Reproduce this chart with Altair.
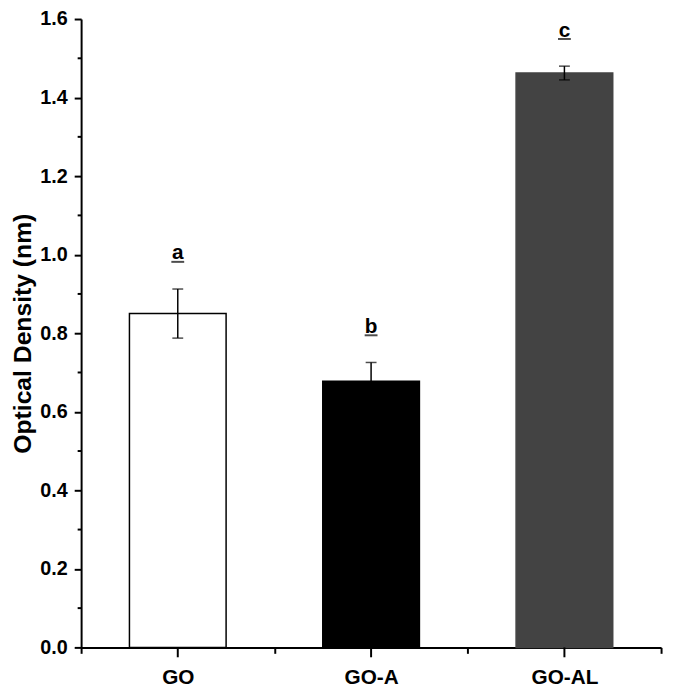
import altair as alt
import pandas as pd

categories = ["GO", "GO-A", "GO-AL"]
means = [0.85, 0.678, 1.4625]
errors = [0.0625, 0.0475, 0.0175]
letters = ["a", "b", "c"]
fills = ["#ffffff", "#000000", "#434343"]
strokes = ["#000000", "#000000", "#434343"]
y_ticks = [0.0, 0.2, 0.4, 0.6, 0.8, 1.0, 1.2, 1.4, 1.6]
y_minor = [0.1, 0.3, 0.5, 0.7, 0.9, 1.1, 1.3, 1.5]

df = pd.DataFrame({"cat": categories, "mean": means, "err": errors, "letter": letters})
minor_df = pd.DataFrame({"v": y_minor})

FONT = "Liberation Sans"
H = 636

xenc = alt.X(
    "cat:N",
    sort=categories,
    scale=alt.Scale(paddingInner=0, paddingOuter=0),
    axis=alt.Axis(
        title=None,
        labelAngle=0,
        tickBand="extent",
        tickSize=6,
        tickWidth=2,
        tickColor="black",
        domainColor="black",
        domainWidth=2,
        labelFont=FONT,
        labelFontWeight="bold",
        labelFontSize=21,
        labelColor="black",
        labelPadding=14,
    ),
)

yscale = alt.Scale(domain=[0, 1.6], nice=False, zero=True)

bars = alt.Chart(df).mark_bar(width={"band": 0.5}, strokeWidth=1.5).encode(
    x=xenc,
    y=alt.Y(
        "mean:Q",
        scale=yscale,
        axis=alt.Axis(
            title="Optical Density (nm)",
            values=y_ticks,
            format=".1f",
            grid=False,
            tickSize=7,
            tickWidth=2,
            tickColor="black",
            domainColor="black",
            domainWidth=2,
            labelFont=FONT,
            labelFontWeight="bold",
            labelFontSize=20,
            labelColor="black",
            labelPadding=7,
            titleFont=FONT,
            titleFontWeight="bold",
            titleFontSize=25,
            titleColor="black",
            titlePadding=4,
        ),
    ),
    fill=alt.Fill("cat:N", scale=alt.Scale(domain=categories, range=fills), legend=None),
    stroke=alt.Stroke("cat:N", scale=alt.Scale(domain=categories, range=strokes), legend=None),
)

base = alt.Chart(df).transform_calculate(
    lo="datum.mean - datum.err", hi="datum.mean + datum.err"
)

err_line = base.mark_rule(color="black", strokeWidth=1.5).encode(
    x=alt.X("cat:N", sort=categories),
    y=alt.Y("lo:Q", scale=yscale),
    y2="hi:Q",
)
cap_hi = base.mark_tick(color="black", size=11, thickness=1.5).encode(
    x=alt.X("cat:N", sort=categories), y=alt.Y("hi:Q", scale=yscale)
)
cap_lo = base.mark_tick(color="black", size=11, thickness=1.5).encode(
    x=alt.X("cat:N", sort=categories), y=alt.Y("lo:Q", scale=yscale)
)

labels = base.mark_text(
    font=FONT, fontWeight="bold", fontSize=21, color="black", baseline="alphabetic", dy=-30
).encode(x=alt.X("cat:N", sort=categories), y=alt.Y("hi:Q", scale=yscale), text="letter:N")

underline = base.mark_tick(color="black", size=13, thickness=2, yOffset=-27.5).encode(
    x=alt.X("cat:N", sort=categories), y=alt.Y("hi:Q", scale=yscale)
)

center_ticks = alt.Chart(df).mark_rule(color="black", strokeWidth=2).encode(
    x=alt.X("cat:N", sort=categories), y=alt.value(H), y2=alt.value(H + 10)
)

minor_ticks = alt.Chart(minor_df).mark_rule(color="black", strokeWidth=2).encode(
    y=alt.Y("v:Q", scale=yscale), x=alt.value(-3.5), x2=alt.value(0)
)

chart = (
    alt.layer(bars, err_line, cap_hi, cap_lo, labels, underline, center_ticks, minor_ticks)
    .properties(
        width=587,
        height=H,
        autosize=alt.AutoSizeParams(type="none"),
        padding={"left": 74, "top": 7, "right": 6, "bottom": 42},
        background="white",
    )
    .configure_view(stroke=None)
)

chart.save("out.html", embed_options={"renderer": "svg", "actions": False})
